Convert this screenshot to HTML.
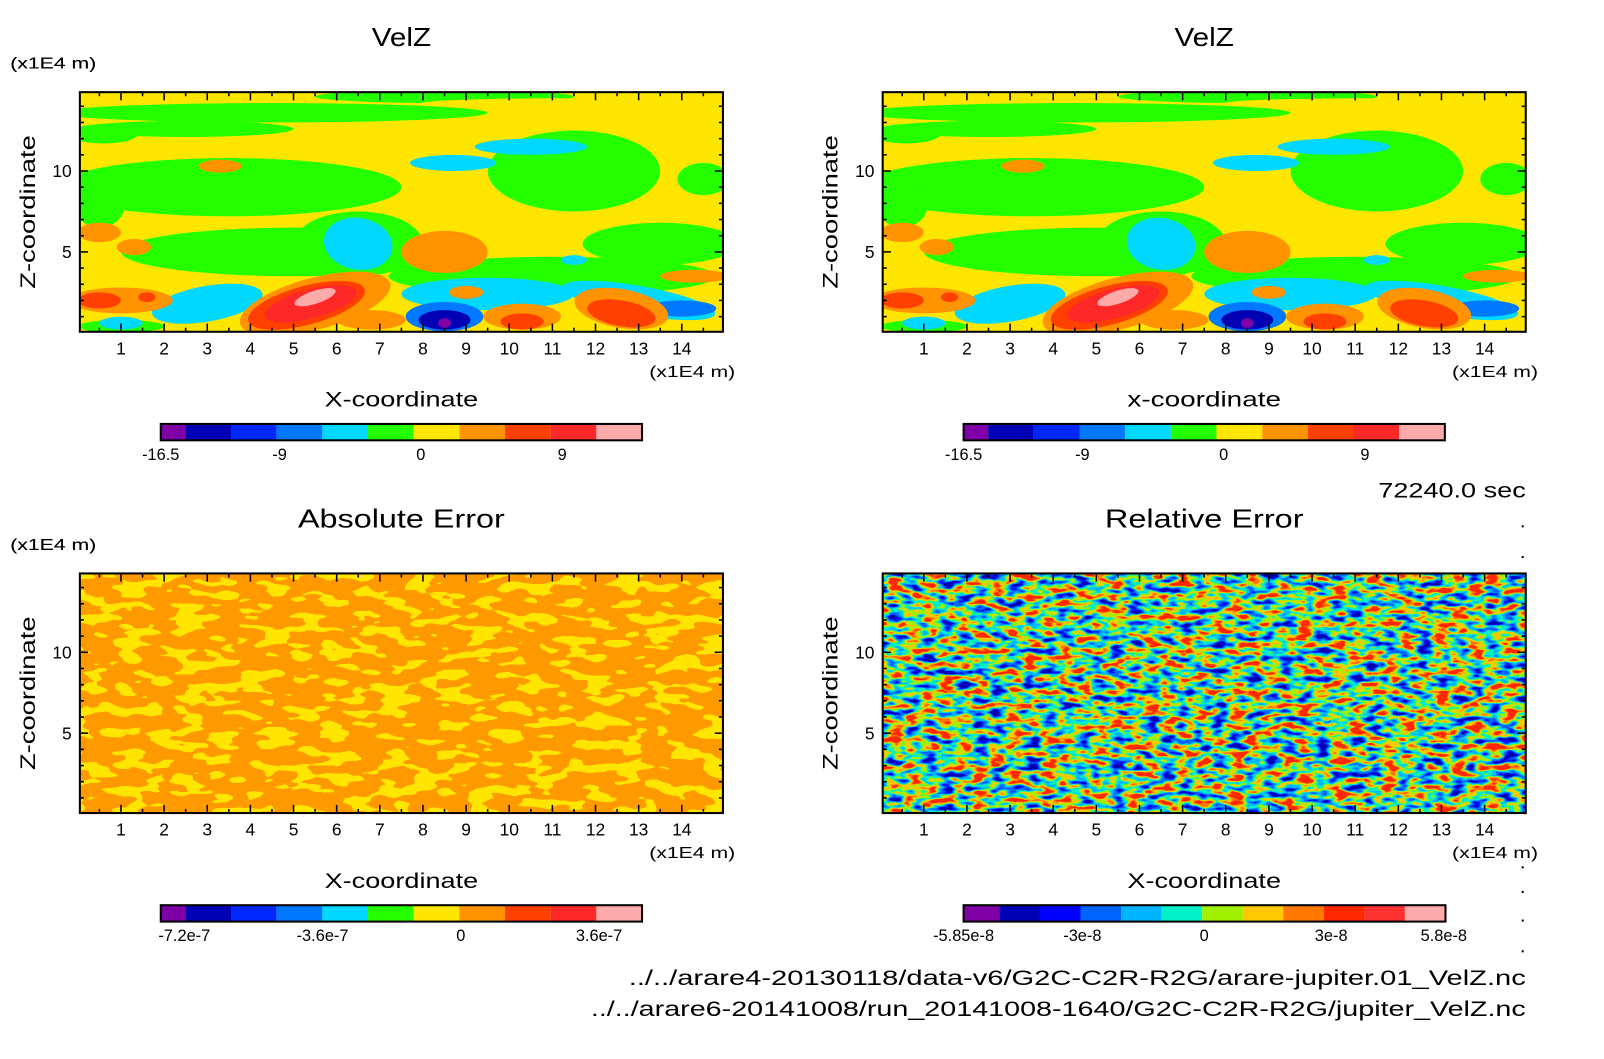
<!DOCTYPE html>
<html><head><meta charset="utf-8"><style>
html,body{margin:0;padding:0;background:#fff;}
svg text{font-family:"Liberation Sans",sans-serif;fill:#000;}
</style></head><body>
<svg id="chart" width="1604" height="1054" viewBox="0 0 1604 1054" xmlns="http://www.w3.org/2000/svg">
<defs>
<filter id="absNoise" x="0" y="0" width="100%" height="100%" color-interpolation-filters="sRGB">
<feTurbulence type="fractalNoise" baseFrequency="0.035 0.09" numOctaves="2" seed="7"/>
<feColorMatrix type="matrix" values="1 0 0 0 0  1 0 0 0 0  1 0 0 0 0  0 0 0 0 1"/>
<feComponentTransfer><feFuncR type="discrete" tableValues="1 1"/><feFuncG type="discrete" tableValues="0.6 0.6 0.6 0.6 0.6 0.9 0.9 0.9 0.9"/><feFuncB type="discrete" tableValues="0 0"/><feFuncA type="linear" slope="0" intercept="1"/></feComponentTransfer>
</filter>
<filter id="relNoise" x="0" y="0" width="100%" height="100%" color-interpolation-filters="sRGB">
<feTurbulence type="fractalNoise" baseFrequency="0.06 0.15" numOctaves="2" seed="3"/>
<feColorMatrix type="matrix" values="1 0 0 0 0  1 0 0 0 0  1 0 0 0 0  0 0 0 0 1"/>
<feComponentTransfer><feFuncR type="linear" slope="1.8" intercept="-0.4"/><feFuncG type="linear" slope="1.8" intercept="-0.4"/><feFuncB type="linear" slope="1.8" intercept="-0.4"/></feComponentTransfer>
<feComponentTransfer>
<feFuncR type="discrete" tableValues="0 0 0 0 0 0.63 1 1 1 1"/>
<feFuncG type="discrete" tableValues="0 0.1 0.4 0.7 0.94 0.94 0.78 0.47 0.16 0.16"/>
<feFuncB type="discrete" tableValues="0.7 1 1 1 0.78 0 0 0 0 0"/>
<feFuncA type="linear" slope="0" intercept="1"/>
</feComponentTransfer>
</filter>
<clipPath id="c1"><rect x="78" y="90" width="628" height="234"/></clipPath>
<clipPath id="c2"><rect x="862" y="90" width="628" height="234"/></clipPath>
</defs>
<g id="root" transform="scale(1.024)"></g>
</svg>
<script>
// contour blobs: x, z (1E4 m), rx, rz, level index, rotation
const blobX = [4.5,2.5,0.6,3.5,5,11.5,13.5,11,1,6.5,8.5,11.5,0.5,14.5,3,6.5,9.5,8.5,8.5,8.5,13,14,8.7,10.5,1,11.5,1,0.5,1.6,5.5,5.3,5.4,5.5,6.8,10.3,10.3,12.6,12.6,8.5,0.5,1.3,9,14.3,3.3];
const blobZ = [13.6,12.6,12.3,9,5,10,5.5,3.5,0.4,5.5,14.6,14.2,8,9.5,1.8,5.5,2.4,1,0.8,0.6,2,1.5,10.5,11.5,0.6,4.5,2,2,2.2,1.8,1.7,1.8,2.2,0.8,1,0.7,1.5,1.2,5,6.2,5.3,2.5,3.5,10.3];
const blobRX = [5,2.5,0.8,4,4,2,1.8,3.8,1,1.5,3,3.5,0.6,0.6,1.3,0.8,2,0.9,0.6,0.15,1.8,0.8,1,1.3,0.5,0.3,1.2,0.5,0.2,1.8,1.4,1.1,0.5,0.8,0.9,0.5,1.1,0.8,1,0.5,0.4,0.4,0.8,0.5];
const blobRZ = [0.6,0.5,0.6,1.8,1.5,2.5,1.3,1.2,0.4,2,0.4,0.3,1.5,1,1.1,1.6,1.0,0.9,0.6,0.3,0.9,0.5,0.5,0.5,0.4,0.3,0.8,0.5,0.3,1.6,1.2,0.9,0.4,0.6,0.8,0.5,1.2,0.8,1.3,0.6,0.5,0.4,0.4,0.4];
const blobLvl = [5,5,5,5,5,5,5,5,5,5,5,6,5,5,4,4,4,3,1,0,4,3,4,4,4,4,7,8,8,7,8,9,10,7,7,8,7,8,7,7,7,7,7,7];
const blobRot = [0,0,0,0,0,0,0,0,0,0,0,0,0,0,-10,10,0,0,0,0,10,0,0,0,0,0,0,0,0,-15,-15,-15,-18,0,0,0,10,10,0,0,0,0,0,0];
const palette = ["#8000a8","#0000b4","#0028ff","#0078ff","#00d8ff","#24ff00","#ffe600","#ff9400","#ff4000","#ff2828","#ffaaaa"];
const relPalette = ["#8000a8","#0000b4","#0000ff","#0064ff","#00b4ff","#00f0c8","#a0f000","#ffc800","#ff7800","#ff2800","#ff3232","#ffaaaa"];
const xTicks = [1,2,3,4,5,6,7,8,9,10,11,12,13,14];
const zTicks = [5,10];
const cbLabelsA = ["-16.5","-9","0","9"];
const cbLabelsB = ["-7.2e-7","-3.6e-7","0","3.6e-7"];
const cbLabelsC = ["-5.85e-8","-3e-8","0","3e-8","5.8e-8"];

const NS="http://www.w3.org/2000/svg";
const root=document.getElementById('root');
function mk(tag,attrs,parent){const e=document.createElementNS(NS,tag);for(const k in attrs)e.setAttribute(k,attrs[k]);(parent||root).appendChild(e);return e;}
function txt(x,y,s,size,anchor,parent,len){const t=mk('text',{x:x,y:y,'font-size':size,'text-anchor':anchor||'middle'},parent);if(len){t.setAttribute('textLength',len);t.setAttribute('lengthAdjust','spacingAndGlyphs');}t.textContent=s;return t;}

const PW=628,PH=234;
function xs(ox,v){return ox-2+42.13*v;}
function zs(oy,v){return oy+PH+1-15.8*v;}

function panel(ox,oy,title,xlabel,kind,clipId,titleLen){
  const g=mk('g',{});
  
  
  const t=txt(ox+314,oy-45,title,25,'middle',g,titleLen);
  
  
  const u=txt(10,oy-23,'(x1E4 m)',15,'start',g,84);
  
  
  const fg=mk('g',{},g);
  
  
  if(clipId) fg.setAttribute('clip-path','url(#'+clipId+')');
  if(kind==='vel'){
    mk('rect',{x:ox,y:oy,width:PW,height:PH,fill:palette[6]},fg);
    for(let i=0;i<blobX.length;i++){
      const cx=xs(ox,blobX[i]),cy=zs(oy,blobZ[i]);
      const e=mk('ellipse',{cx:cx,cy:cy,rx:blobRX[i]*42.13,ry:blobRZ[i]*15.8,fill:palette[blobLvl[i]],transform:'rotate('+blobRot[i]+' '+cx+' '+cy+')'},fg);
      
      
    }
  } else if(kind==='abs'){
    mk('rect',{x:ox,y:oy,width:PW,height:PH,filter:'url(#absNoise)'},fg);
  } else {
    mk('rect',{x:ox,y:oy,width:PW,height:PH,filter:'url(#relNoise)'},fg);
  }
  const fr=mk('rect',{x:ox,y:oy,width:PW,height:PH,fill:'none',stroke:'#000','stroke-width':2},g);
  
  
  for(let v=0.5;v<15;v+=0.5){
    const x=xs(ox,v); const L=(v%1===0)?8:4;
    mk('line',{x1:x,y1:oy+PH,x2:x,y2:oy+PH-L,stroke:'#000','stroke-width':1.5},g);
    mk('line',{x1:x,y1:oy,x2:x,y2:oy+L,stroke:'#000','stroke-width':1.5},g);
  }
  for(let v=1;v<15;v++){
    const y=zs(oy,v); const L=(v%5===0)?8:4;
    mk('line',{x1:ox,y1:y,x2:ox+L,y2:y,stroke:'#000','stroke-width':1.5},g);
    mk('line',{x1:ox+PW,y1:y,x2:ox+PW-L,y2:y,stroke:'#000','stroke-width':1.5},g);
  }
  xTicks.forEach(v=>{const l=txt(xs(ox,v),oy+PH+22,String(v),17,'middle',g);
    
    });
  zTicks.forEach(v=>{const l=txt(ox-8,zs(oy,v)+6,String(v),17,'end',g);
    
    });
  const xu=txt(ox+640,oy+PH+44,'(x1E4 m)',15,'end',g,84);
  
  
  const xl=txt(ox+314,oy+PH+73,xlabel,21,'middle',g,150);
  
  
  const yl=txt(0,0,'Z-coordinate',21,'middle',g,150);
  yl.setAttribute('transform','translate('+(ox-44)+','+(oy+117)+') rotate(-90)');
  
  
}

function colorbar(x0,y0,cols,firstW,w,labels,labelX){
  const g=mk('g',{});
  
  
  let x=x0;
  cols.forEach((c,i)=>{const cw=i===0?firstW:w;
    const r=mk('rect',{x:x,y:y0,width:cw,height:16,fill:c},g);
    
    
    x+=cw;});
  mk('rect',{x:x0,y:y0,width:x-x0,height:16,fill:'none',stroke:'#000','stroke-width':2},g);
  labels.forEach((s,i)=>{const l=txt(labelX[i],y0+35,s,16,'middle',g);
    
    });
}

panel(78,90,'VelZ','X-coordinate','vel','c1',58);
panel(862,90,'VelZ','x-coordinate','vel','c2',58);
panel(78,560,'Absolute Error','X-coordinate','abs',null,202);
panel(862,560,'Relative Error','X-coordinate','rel',null,194);

colorbar(157,414,palette,24,44.6,cbLabelsA,[157,273,411,549]);
colorbar(941,414,palette,24,44.6,cbLabelsA,[941,1057,1195,1333]);
colorbar(157,884,palette,24,44.6,cbLabelsB,[180,315,450,585]);
colorbar(941,884,relPalette,35,39.6,cbLabelsC,[941,1057,1176,1300,1410]);

const tm=txt(1490,486,'72240.0 sec',21,'end',null,144);


const f1=txt(1490,962,'../../arare4-20130118/data-v6/G2C-C2R-R2G/arare-jupiter.01_VelZ.nc',21,'end',null,876);


const f2=txt(1490,992,'../../arare6-20141008/run_20141008-1640/G2C-C2R-R2G/jupiter_VelZ.nc',21,'end',null,913);


[513,543,846,870,898,928].forEach(y=>{mk('rect',{x:1486,y:y,width:2,height:2,fill:'#000'});});
</script>
</body></html>
